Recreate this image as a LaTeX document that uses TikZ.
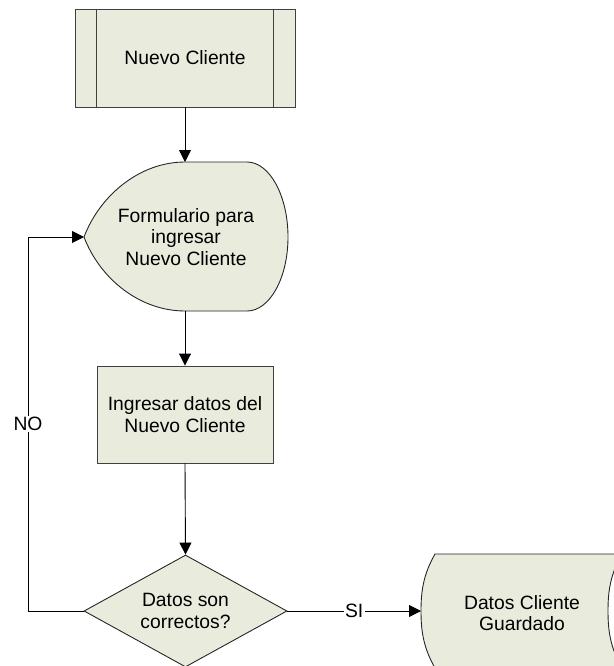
\documentclass[tikz,border=0pt]{standalone}
\usepackage{fontspec}
\setmainfont{Liberation Sans}
\usetikzlibrary{shapes.geometric,arrows.meta}
\definecolor{boxfill}{RGB}{233,236,221}
\definecolor{boxline}{RGB}{64,64,64}
\begin{document}
\begin{tikzpicture}[x=1bp,y=-1bp,
  txt/.style={font=\fontsize{19.3bp}{21.7bp}\selectfont, align=center, text=black},
  proc/.style={draw=boxline, fill=boxfill, line width=0.9bp, inner sep=0pt, txt},
  shp/.style={draw=black!85, fill=boxfill, line width=0.9bp},
  conn/.style={draw=black, line width=0.9bp, -{Triangle[length=12bp,width=12bp]}},
  lbl/.style={fill=white, inner sep=1.5bp, txt}]
\useasboundingbox (0,0) rectangle (614,666);

% predefined process
\node[proc, minimum width=220bp, minimum height=98bp] (nuevo) at (185,58) {Nuevo Cliente};
\draw[boxline, line width=0.9bp] ([xshift=22bp]nuevo.north west) -- ([xshift=22bp]nuevo.south west);
\draw[boxline, line width=0.9bp] ([xshift=-22bp]nuevo.north east) -- ([xshift=-22bp]nuevo.south east);

% display shape
\coordinate (dispL) at (84,237);
\coordinate (dispT) at (185,162);
\coordinate (dispB) at (185,311);
\path[shp] (dispL) .. controls (100,195) and (140,162) .. (dispT) -- (247,162)
  .. controls (269.6,162) and (288,195.9) .. (288,237)
  .. controls (288,278.1) and (269.6,311) .. (247,311)
  -- (dispB) .. controls (140,311) and (100,279) .. (dispL) -- cycle;
\node[txt] (form) at (186,237) {Formulario para\\ingresar\\Nuevo Cliente};

% process
\node[proc, minimum width=176bp, minimum height=97bp] (ingr) at (185,414.5) {Ingresar datos del\\Nuevo Cliente};

% decision
\node[draw=black!85, fill=boxfill, line width=0.9bp, shape=diamond, aspect=1.81,
      minimum width=203bp, minimum height=112bp, inner sep=0pt, txt] (dec) at (185.5,611) {Datos son\\correctos?};

% stored data
\coordinate (guardL) at (421,611);
\path[shp] (435,554) -- (622,554)
  .. controls (610,575) and (608,592) .. (608,611)
  .. controls (608,630) and (610,647) .. (622,668)
  -- (435,668)
  .. controls (423,647) and (421,630) .. (guardL)
  .. controls (421,592) and (423,575) .. (435,554) -- cycle;
\node[txt] (guard) at (522,613) {Datos Cliente\\Guardado};

% connectors
\coordinate (noBot) at (28,611);
\coordinate (noTop) at (28,237);
\draw[conn] (nuevo.south) -- (dispT);
\draw[conn] (dispB) -- (ingr.north);
\draw[conn] (ingr.south) -- (dec.north);
\draw[conn] (dec.east) -- node[lbl, pos=0.5]{SI} (guardL);
\draw[conn] (dec.west) -- (noBot) -- node[lbl]{NO} (noTop) -- (dispL);
\end{tikzpicture}
\end{document}
